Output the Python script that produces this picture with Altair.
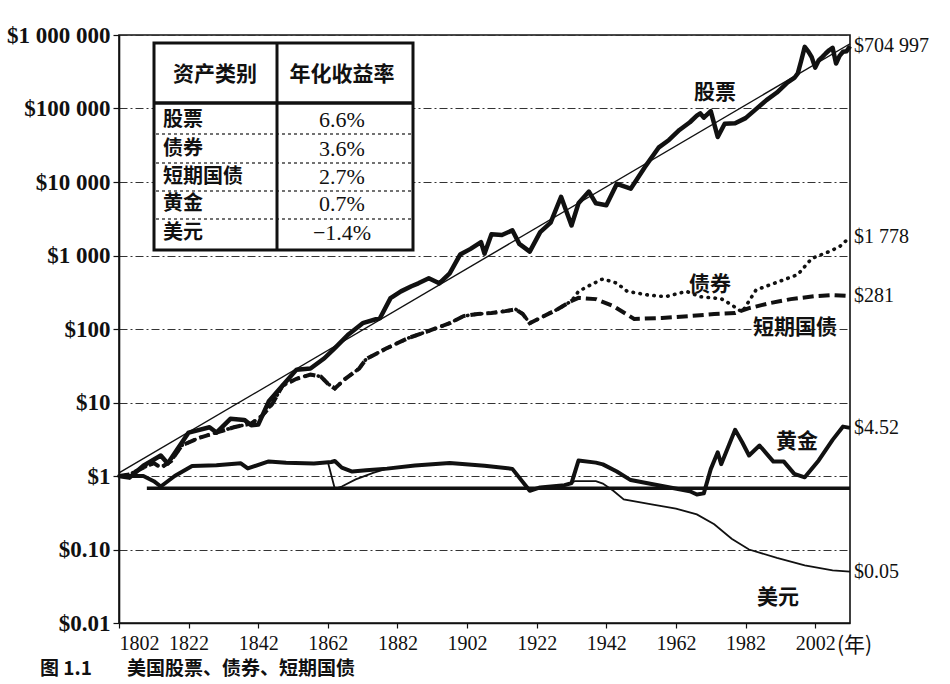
import json
import altair as alt
import pandas as pd

# ---------------- data ----------------
stock_years = [1802, 1805, 1809, 1814, 1816, 1822, 1828, 1830, 1834, 1838, 1840, 1842, 1845, 1849, 1853,
               1857, 1861, 1864, 1868, 1872, 1877, 1880, 1883, 1886, 1888, 1891, 1894, 1897, 1900, 1903,
               1906, 1907, 1909, 1912, 1915, 1917, 1920, 1923, 1926, 1929, 1932, 1934, 1937, 1939, 1942,
               1945, 1949, 1953, 1957, 1960, 1963, 1966, 1968, 1969, 1970, 1972, 1974, 1976, 1979, 1982,
               1985, 1988, 1991, 1994, 1996, 1997, 1998, 1999, 2000, 2001, 2002, 2003, 2004, 2005, 2006,
               2007, 2008, 2009, 2010, 2011, 2012]
stock_values = [1.0, 0.95, 1.38, 1.9, 1.48, 3.9, 4.6, 3.9, 6.0, 5.8, 4.9, 5.0, 10.3, 17, 28,
                29, 40, 55, 85, 120, 141, 263, 325, 381, 418, 490, 418, 572, 1030, 1230,
                1520, 1060, 1950, 1900, 2200, 1440, 1130, 2080, 2800, 6300, 2560, 5130, 7400, 5130, 4830,
                9400, 8100, 15800, 29300, 37300, 51000, 65000, 80000, 86000, 75000, 92000, 41000, 62000, 63000, 74000,
                98000, 130000, 165000, 225000, 260000, 300000, 450000, 690000, 600000, 500000, 360000, 450000, 500000, 560000, 620000,
                670000, 410000, 520000, 590000, 600000, 704997]

trend_years = [1802, 2012]
trend_values = [1.1, 760000]

bond_years = [1802, 1805, 1809, 1812, 1814, 1817, 1820, 1825, 1830, 1835, 1840, 1843, 1846, 1849, 1853,
              1857, 1860, 1862, 1864, 1867, 1871, 1873, 1879, 1885, 1891, 1897, 1901, 1905, 1909, 1913,
              1916, 1918, 1920, 1923, 1928, 1932, 1934, 1938, 1941, 1945, 1948, 1954, 1959, 1965, 1969,
              1975, 1978, 1981, 1985, 1990, 1997, 2001, 2006, 2009, 2012]
bond_values = [1.0, 1.05, 1.3, 1.5, 1.3, 1.6, 2.6, 3.3, 3.9, 4.6, 5.2, 6.5, 9.5, 17, 21,
               24, 22.5, 18, 15.5, 21, 29, 39, 55, 75, 94, 120, 150, 160, 165, 175,
               185, 160, 120, 141, 186, 240, 325, 410, 480, 420, 325, 290, 275, 325, 275,
               258, 213, 170, 340, 415, 550, 910, 1130, 1320, 1778]

bill_years = [1802, 1805, 1809, 1812, 1814, 1817, 1820, 1825, 1830, 1835, 1840, 1843, 1846, 1849, 1853,
              1857, 1860, 1862, 1864, 1867, 1871, 1873, 1879, 1885, 1891, 1897, 1901, 1905, 1909, 1913,
              1916, 1918, 1920, 1923, 1928, 1932, 1934, 1939, 1944, 1950, 1958, 1966, 1973, 1979, 1983,
              1989, 1995, 2002, 2007, 2012]
bill_values = [1.0, 1.05, 1.3, 1.5, 1.3, 1.6, 2.6, 3.3, 3.9, 4.6, 5.2, 6.5, 9.5, 17, 21,
               24, 22.5, 18, 15.5, 21, 29, 39, 55, 75, 94, 120, 150, 160, 165, 175,
               185, 160, 120, 141, 186, 240, 265, 255, 205, 137, 141, 150, 160, 165, 192,
               225, 255, 280, 290, 281]

gold_years = [1802, 1805, 1809, 1812, 1814, 1818, 1823, 1830, 1837, 1839, 1845, 1850, 1858, 1863, 1864,
              1866, 1869, 1873, 1879, 1887, 1897, 1907, 1915, 1920, 1923, 1930, 1932, 1934, 1939, 1941,
              1945, 1949, 1955, 1966, 1968, 1970, 1972, 1974, 1975, 1979, 1981, 1983, 1986, 1990, 1993,
              1996, 1999, 2003, 2007, 2010, 2012]
gold_values = [1.0, 1.0, 1.0, 0.85, 0.72, 1.0, 1.37, 1.4, 1.49, 1.27, 1.58, 1.52, 1.48, 1.55, 1.6,
               1.3, 1.15, 1.2, 1.26, 1.39, 1.5, 1.38, 1.25, 0.63, 0.7, 0.75, 0.8, 1.62, 1.52, 1.44,
               1.15, 0.88, 0.78, 0.62, 0.56, 0.58, 1.24, 2.1, 1.45, 4.25, 2.9, 1.9, 2.6, 1.57, 1.57,
               1.07, 0.96, 1.63, 3.1, 4.7, 4.52]

dollar_years = [1802, 1805, 1809, 1812, 1814, 1818, 1823, 1830, 1837, 1839, 1845, 1850, 1858, 1862, 1864,
                1866, 1870, 1875, 1879, 1887, 1897, 1907, 1915, 1920, 1923, 1930, 1933, 1939, 1941, 1944,
                1947, 1955, 1962, 1968, 1973, 1978, 1983, 1991, 1999, 2007, 2012]
dollar_values = [1.0, 1.0, 1.0, 0.85, 0.72, 1.0, 1.37, 1.4, 1.49, 1.27, 1.58, 1.52, 1.48, 1.55, 0.67,
                 0.72, 0.9, 1.1, 1.26, 1.39, 1.5, 1.38, 1.25, 0.63, 0.7, 0.75, 0.85, 0.85, 0.79, 0.63,
                 0.48, 0.41, 0.36, 0.30, 0.22, 0.14, 0.10, 0.077, 0.061, 0.052, 0.05]

base_years = [1810, 2012]
base_values = [0.68, 0.68]

x_ticks = [1802, 1822, 1842, 1862, 1882, 1902, 1922, 1942, 1962, 1982, 2002]
y_ticks = [0.01, 0.1, 1, 10, 100, 1000, 10000, 100000, 1000000]
y_tick_labels = ["$0.01", "$0.10", "$1", "$10", "$100", "$1 000", "$10 000", "$100 000", "$1 000 000"]

asset_classes = ["股票", "债券", "短期国债", "黄金", "美元"]
annual_returns = ["6.6%", "3.6%", "2.7%", "0.7%", "−1.4%"]
table_header = ["资产类别", "年化收益率"]

series_names = ["股票", "债券", "短期国债", "黄金", "美元"]
caption_parts = ["图 1.1", "美国股票、债券、短期国债"]

# ---------------- chart ----------------
INK = "#111111"
SERIF = "Liberation Serif"
CJK = "Noto Sans CJK SC"
W, H = 731, 588


def df_of(name, years, values):
    return pd.DataFrame({"series": name, "year": years, "value": values})


x_scale = alt.Scale(domain=[1802, 2012], nice=False, zero=False)
y_scale = alt.Scale(type="log", domain=[0.01, 1000000], nice=False)

# label expression: nested conditions mapping tick value -> label
label_expr = "''"
for v, lab in reversed(list(zip(y_ticks, y_tick_labels))):
    label_expr = f"(abs(datum.value - {v}) < {v} * 0.001 ? {json.dumps(lab)} : {label_expr})"

x_axis = alt.Axis(values=x_ticks, format="d", title=None, grid=False,
                  labelFont=SERIF, labelFontSize=20, labelColor=INK,
                  tickSize=5, tickColor=INK, tickWidth=1.2,
                  domainColor=INK, domainWidth=1.6, labelPadding=5)
y_axis = alt.Axis(values=y_ticks, labelExpr=label_expr, title=None,
                  labelFont=SERIF, labelFontWeight="bold", labelFontSize=23, labelColor=INK,
                  tickSize=6, tickColor=INK, tickWidth=1.2, labelPadding=3,
                  grid=True, gridDash=[8, 3, 2, 3], gridColor="#333333", gridWidth=1,
                  domainColor=INK, domainWidth=1.6)


def line_layer(df, **mark):
    return alt.Chart(df).mark_line(color=INK, **mark).encode(
        x=alt.X("year:Q", scale=x_scale, axis=x_axis),
        y=alt.Y("value:Q", scale=y_scale, axis=y_axis),
    )


layers = [
    line_layer(df_of("base", base_years, base_values), strokeWidth=3.5),
    line_layer(df_of("黄金", gold_years, gold_values), strokeWidth=4, strokeJoin="round"),
    line_layer(df_of("美元", dollar_years, dollar_values), strokeWidth=1.8),
    line_layer(df_of("短期国债", bill_years, bill_values), strokeWidth=4, strokeDash=[11, 5]),
    line_layer(df_of("债券", bond_years, bond_values), strokeWidth=3.6, strokeDash=[0.5, 6.5],
               strokeCap="round"),
    line_layer(df_of("股票", stock_years, stock_values), strokeWidth=4.5, strokeJoin="round"),
    line_layer(df_of("trend", trend_years, trend_values), strokeWidth=1.4),
]


def money(v):
    return "$" + (f"{v:,.0f}".replace(",", " ") if v >= 100 else f"{v:.2f}")


end_df = pd.DataFrame({
    "year": [stock_years[-1], bond_years[-1], bill_years[-1], gold_years[-1], dollar_years[-1]],
    "value": [stock_values[-1], bond_values[-1], bill_values[-1], gold_values[-1], dollar_values[-1]],
})
end_df["label"] = [money(v) for v in end_df["value"]]
layers.append(
    alt.Chart(end_df).mark_text(align="left", baseline="middle", dx=4, font=SERIF,
                                fontSize=20, color=INK).encode(
        x=alt.X("year:Q", scale=x_scale, axis=x_axis),
        y=alt.Y("value:Q", scale=y_scale, axis=y_axis),
        text="label:N",
    )
)

one = pd.DataFrame({"k": [0]})


def text_at(txt, px, py, **kw):
    style = dict(font=CJK, fontSize=21, fontWeight="bold", color=INK, align="center", baseline="middle")
    style.update(kw)
    return alt.Chart(pd.DataFrame({"t": [txt]})).mark_text(**style).encode(
        x=alt.value(px), y=alt.value(py), text="t:N")


# series name labels
series_label_pos = [(596, 58), (591, 250), (676, 293), (678, 407), (659, 563)]
for name, (px, py) in zip(series_names, series_label_pos):
    layers.append(text_at(name, px, py))

# year unit
layers.append(text_at("(年)", 718, 611, align="left", fontWeight="normal", fontSize=21))

# caption (at the bottom edge as in the scan)
layers.append(text_at(caption_parts[0], -79, 625, align="left", baseline="top", fontSize=19))
layers.append(text_at(caption_parts[1], 8, 625, align="left", baseline="top", fontSize=19))

# table
T_L, T_R, T_T, T_B = 35, 294, 8, 215
COL = 158
HEAD = 68
layers.append(alt.Chart(one).mark_rect(fill="white", stroke=INK, strokeWidth=3).encode(
    x=alt.value(T_L), x2=alt.value(T_R), y=alt.value(T_T), y2=alt.value(T_B)))
row_y = [85, 114, 142, 169, 198]
for sep in [99, 128, 156, 184]:
    layers.append(alt.Chart(one).mark_rule(color="#444444", strokeWidth=1.3, strokeDash=[3, 3]).encode(
        x=alt.value(T_L + 2), x2=alt.value(T_R - 2), y=alt.value(sep)))
layers.append(alt.Chart(one).mark_rule(color=INK, strokeWidth=3).encode(
    x=alt.value(COL), y=alt.value(T_T), y2=alt.value(T_B)))
layers.append(alt.Chart(one).mark_rule(color=INK, strokeWidth=3.5).encode(
    x=alt.value(T_L), x2=alt.value(T_R), y=alt.value(HEAD)))
layers.append(text_at(table_header[0], 96, 40, fontSize=21))
layers.append(text_at(table_header[1], 223, 40, fontSize=21))
for i, (nm, rt) in enumerate(zip(asset_classes, annual_returns)):
    layers.append(text_at(nm, 44, row_y[i], align="left", fontSize=20))
    layers.append(text_at(rt, 223, row_y[i], font=SERIF, fontWeight="normal", fontSize=22))

chart = alt.layer(*layers).properties(
    width=W, height=H,
    padding={"left": 119, "top": 35, "right": 100, "bottom": 61},
    autosize=alt.AutoSizeParams(type="none"),
    background="white",
).configure_view(stroke=INK, strokeWidth=1.6)

chart.save("out.html", embed_options={"renderer": "svg", "actions": False})
